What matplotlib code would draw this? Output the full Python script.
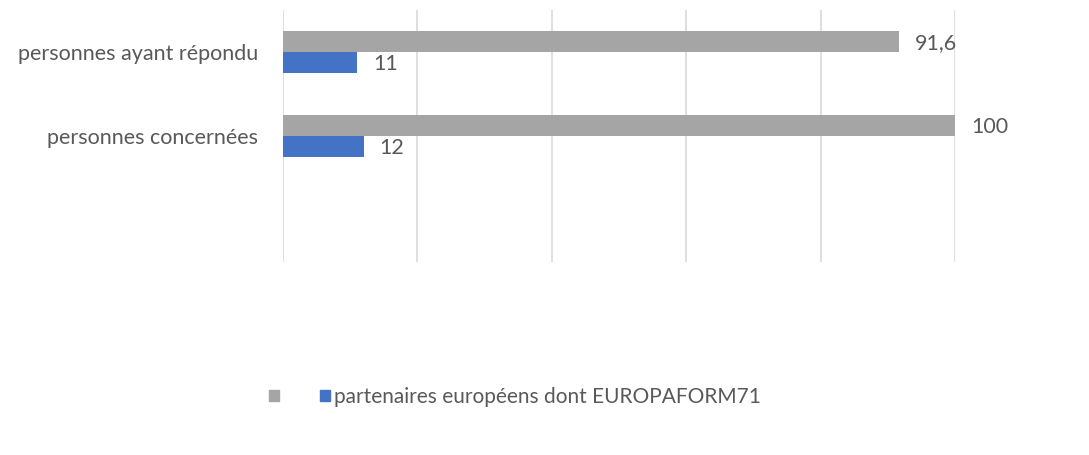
import matplotlib.pyplot as plt
import matplotlib.patches as mpatches
import numpy as np

plt.rcParams['font.family'] = ['Lato', 'DejaVu Sans']

categories = ["personnes ayant répondu", "personnes concernées", ""]
total = [91.6, 100, None]
partners = [11, 12, None]
total_labels = ["91,6", "100"]
partner_labels = ["11", "12"]
legend_label = "partenaires européens dont EUROPAFORM71"

grey = "#A5A5A5"
blue = "#4472C4"
txt = "#595959"
fs = 15.5

fig = plt.figure(figsize=(10.89, 4.55), dpi=100)
ax = fig.add_axes([283 / 1089, 1 - 262 / 455, 672 / 1089, 252 / 455])

ind = np.arange(len(categories))
h = 0.25
tv = [v if v is not None else 0 for v in total]
pv = [v if v is not None else 0 for v in partners]
ax.barh(ind[:2] - h / 2, tv[:2], h, color=grey, zorder=2)
ax.barh(ind[:2] + h / 2, pv[:2], h, color=blue, zorder=2)

for i in range(2):
    ax.text(tv[i] + 2.4, ind[i] - h / 2 + 0.02, total_labels[i], va='center', ha='left',
            color=txt, fontsize=fs)
    ax.text(pv[i] + 2.4, ind[i] + h / 2 + 0.02, partner_labels[i], va='center', ha='left',
            color=txt, fontsize=fs)

ax.set_xlim(0, 100)
ax.set_ylim(2.5, -0.5)
ax.set_xticks(np.arange(0, 101, 20))
ax.set_xticklabels([])
ax.tick_params(length=0)
ax.set_yticks(ind)
ax.set_yticklabels(categories, color=txt, fontsize=fs)
ax.tick_params(axis='y', pad=18)
ax.grid(axis='x', color='#D9D9D9', linewidth=1.2, zorder=0)
for s in ax.spines.values():
    s.set_visible(False)

handles = [mpatches.Patch(color=grey, label=" "), mpatches.Patch(color=blue, label=legend_label)]
fig.legend(handles=handles, loc='center', bbox_to_anchor=(515 / 1089, 1 - 397 / 455), ncol=2,
           frameon=False, handlelength=0.48, handleheight=0.48, handletextpad=0.2,
           columnspacing=1.5, labelcolor=txt, fontsize=15)

plt.savefig("out.png", dpi=100)
